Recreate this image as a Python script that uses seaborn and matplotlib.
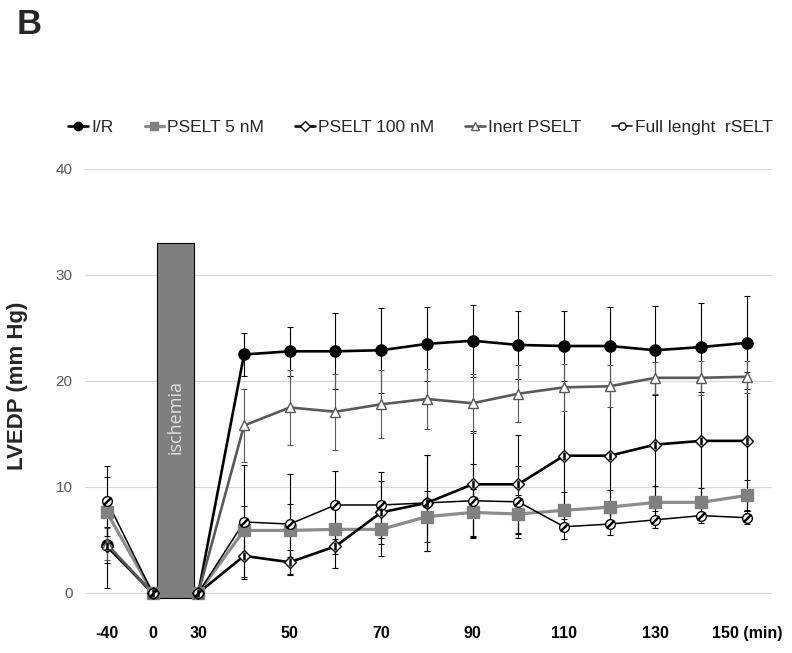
"""LVEDP time course, panel B."""

import matplotlib

matplotlib.use("Agg")
import matplotlib.pyplot as plt
import pandas as pd
import seaborn as sns
from matplotlib.lines import Line2D
from matplotlib.path import Path

sns.set_theme(style="white")
plt.rcParams["font.family"] = ["Liberation Sans", "DejaVu Sans"]

minutes = [-40, 0, 30, 40, 50, 60, 70, 80, 90, 100, 110, 120, 130, 140, 150]
labeled_minutes = [-40, 0, 30, 50, 70, 90, 110, 130, 150]

series_names = ["I/R", "PSELT 5 nM", "PSELT 100 nM", "Inert PSELT", "Full lenght  rSELT"]

ir_mean = [4.5, 0, 0, 22.5, 22.8, 22.8, 22.9, 23.5, 23.8, 23.4, 23.3, 23.3, 22.9, 23.2, 23.6]
ir_sd = [1.7, 0, 0, 2.0, 2.3, 3.6, 4.0, 3.5, 3.4, 3.2, 3.3, 3.7, 4.2, 4.2, 4.4]
pselt5_mean = [7.6, 0, 0, 5.9, 5.9, 6.0, 6.0, 7.2, 7.6, 7.45, 7.8, 8.1, 8.55, 8.55, 9.2]
pselt5_sd = [3.3, 0, 0, 2.3, 2.5, 2.3, 2.5, 2.4, 2.2, 1.8, 1.7, 1.6, 1.5, 1.4, 1.5]
pselt100_mean = [4.4, 0, 0, 3.5, 2.9, 4.4, 7.6, 8.5, 10.25, 10.25, 12.95, 12.95, 14.0, 14.35, 14.35]
pselt100_sd = [3.9, 0, 0, 2.0, 1.2, 2.0, 3.0, 4.5, 5.0, 4.7, 6.0, 6.2, 5.8, 6.0, 6.5]
inert_mean = [4.6, 0, 0, 15.8, 17.5, 17.1, 17.8, 18.3, 17.9, 18.8, 19.4, 19.5, 20.3, 20.3, 20.4]
inert_sd = [1.5, 0, 0, 3.4, 3.5, 3.6, 3.2, 2.8, 2.8, 2.7, 2.2, 2.0, 1.5, 1.6, 1.5]
full_mean = [8.7, 0, 0, 6.7, 6.5, 8.3, 8.3, 8.5, 8.7, 8.6, 6.25, 6.5, 6.9, 7.3, 7.1]
full_sd = [3.3, 0, 0, 5.4, 4.7, 3.2, 3.1, 4.5, 3.5, 3.4, 1.2, 1.0, 0.8, 0.7, 0.6]

ischemia_top = 33.0

means = [ir_mean, pselt5_mean, pselt100_mean, inert_mean, full_mean]
sds = [ir_sd, pselt5_sd, pselt100_sd, inert_sd, full_sd]

rows = []
for name, m, s in zip(series_names, means, sds):
    for i, (t, v, e) in enumerate(zip(minutes, m, s)):
        rows.append({"pos": i, "minute": t, "value": v, "sd": e, "group": name})
df = pd.DataFrame(rows)

slash = Path([(-1, -1), (1, 1)], [Path.MOVETO, Path.LINETO])
styles = {
    "I/R": dict(color="black", lw=1.9, marker="o", ms=8, mfc="black", mec="black",
                overlay=None, ecolor="black"),
    "PSELT 5 nM": dict(color="#8c8c8c", lw=2.3, marker="s", ms=8.5, mfc="#808080",
                       mec="#808080", overlay=None, ecolor="black"),
    "PSELT 100 nM": dict(color="black", lw=1.9, marker="D", ms=6.5, mfc="white",
                         mec="black", overlay="|", ecolor="black"),
    "Inert PSELT": dict(color="#595959", lw=1.9, marker="^", ms=7.5, mfc="white",
                        mec="#595959", overlay=None, ecolor="#595959"),
    "Full lenght  rSELT": dict(color="black", lw=1.1, marker="o", ms=7, mfc="white",
                               mec="black", overlay=slash, ecolor="black"),
}
palette = {k: v["color"] for k, v in styles.items()}

fig = plt.figure(figsize=(7.92, 6.53), dpi=100)
ax = fig.add_axes([0.1073, 0.0757, 0.8674, 0.6655])

# error bars
for name in series_names:
    sub = df[df["group"] == name]
    ax.errorbar(sub["pos"], sub["value"], yerr=sub["sd"], fmt="none",
                ecolor=styles[name]["ecolor"], elinewidth=0.8, capsize=2.5,
                capthick=0.8, zorder=2)

# lines
sns.lineplot(data=df, x="pos", y="value", hue="group", hue_order=series_names,
             palette=palette, legend=False, ax=ax, estimator=None, sort=False,
             units="group", zorder=3)
for line, name in zip(ax.get_lines()[-len(series_names):], series_names):
    line.set_linewidth(styles[name]["lw"])

# ischemia block sits over the lines but under the markers
ax.bar(1.5, ischemia_top + 0.5, bottom=-0.5, width=0.8, color="#7f7f7f",
       edgecolor="black", linewidth=0.8, zorder=4)
ax.text(1.5, 16.6, "ischemia", rotation=90, ha="center", va="center",
        color="#e0e0e0", fontsize=13, family=["Open Sans", "DejaVu Sans"], zorder=5)

# markers
for name in series_names:
    st = styles[name]
    sub = df[df["group"] == name]
    ax.plot(sub["pos"], sub["value"], ls="none", marker=st["marker"], ms=st["ms"],
            mfc=st["mfc"], mec=st["mec"], mew=1.0, zorder=6)
    if st["overlay"] is not None:
        ax.plot(sub["pos"], sub["value"], ls="none", marker=st["overlay"],
                ms=st["ms"] * 0.8, mec="black", mew=1.8, zorder=7)

ax.set_xlim(-0.48, 14.55)
ax.set_ylim(-1, 40)
ax.set_yticks([0, 10, 20, 30, 40])
ax.set_xticks([minutes.index(m) for m in labeled_minutes])
ax.set_xticklabels([str(m) if m != 150 else "150 (min)" for m in labeled_minutes],
                   fontweight="bold", fontsize=11.5, color="black")
ax.tick_params(axis="x", length=0, pad=16)
ax.tick_params(axis="y", length=0, pad=9, labelsize=11, labelcolor="#595959")
ax.grid(axis="y", color="#d9d9d9", linewidth=0.9)
ax.set_axisbelow(True)
for sp in ax.spines.values():
    sp.set_visible(False)
ax.set_xlabel("")
ax.set_ylabel("LVEDP (mm Hg)", fontsize=16, fontweight="bold", va="center")
ax.yaxis.set_label_coords(-0.098, 0.5)

# legend
handles = []
for name in series_names:
    st = styles[name]
    handles.append(Line2D([0], [0], color=st["color"], lw=st["lw"], marker=st["marker"],
                          ms=st["ms"] * 0.75, mfc=st["mfc"], mec=st["mec"]))
fig.legend(handles, series_names, loc="center", bbox_to_anchor=(0.531, 0.805), ncol=5,
           frameon=False, fontsize=12.5, handlelength=1.15, handletextpad=0.15,
           columnspacing=1.8)

fig.text(0.021, 0.963, "B", fontsize=25, fontweight="bold", va="center")

fig.savefig("out.png", dpi=100)
